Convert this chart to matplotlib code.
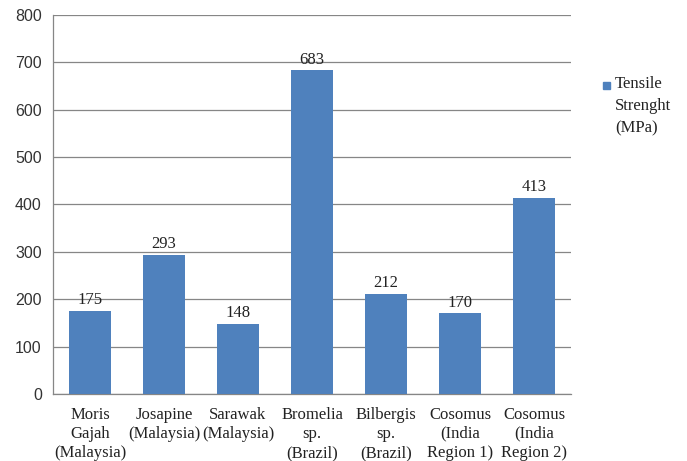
import matplotlib
matplotlib.use("Agg")
import matplotlib.pyplot as plt
from matplotlib.patches import Rectangle

categories = ["Moris\nGajah\n(Malaysia)", "Josapine\n(Malaysia)", "Sarawak\n(Malaysia)",
              "Bromelia\nsp.\n(Brazil)", "Bilbergis\nsp.\n(Brazil)", "Cosomus\n(India\nRegion 1)",
              "Cosomus\n(India\nRegion 2)"]
values = [175, 293, 148, 683, 212, 170, 413]
yticks = [0, 100, 200, 300, 400, 500, 600, 700, 800]
series_name = "Tensile\nStrenght\n(MPa)"

bar_color = "#4F81BD"
grid_color = "#868686"

fig = plt.figure(figsize=(6.87, 4.61), dpi=100)
ax = fig.add_axes([0.0771, 0.1453, 0.754, 0.8222])
x = list(range(len(categories)))
ax.bar(x, values, width=0.57, color=bar_color, zorder=3)
for xi, v in zip(x, values):
    ax.text(xi, v + 6, str(v), ha="center", va="bottom",
            fontfamily="Liberation Serif", fontsize=12, color="#222222")
ax.set_xlim(-0.5, len(categories) - 0.5)
ax.set_ylim(0, 800)
ax.set_yticks(yticks)
ax.set_yticklabels([str(t) for t in yticks], fontfamily="Liberation Sans", fontsize=11.5, color="#333333")
ax.set_xticks(x)
ax.set_xticklabels(categories, fontfamily="Liberation Serif", fontsize=12, color="#222222",
                   linespacing=1.28)
ax.tick_params(axis="y", length=0, pad=8)
ax.tick_params(axis="x", length=0, pad=9)
ax.yaxis.grid(True, color=grid_color, linewidth=0.9, zorder=0)
for s in ["top", "right"]:
    ax.spines[s].set_visible(False)
ax.spines["left"].set_color(grid_color)
ax.spines["bottom"].set_color(grid_color)
ax.spines["left"].set_linewidth(0.9)
ax.spines["bottom"].set_linewidth(0.9)

# legend
fig.patches.append(Rectangle((603 / 687, 1 - 89 / 461), 7 / 687, 7 / 461,
                             transform=fig.transFigure, color=bar_color))
fig.text(615 / 687, 1 - 76 / 461, series_name, ha="left", va="top",
         fontfamily="Liberation Serif", fontsize=12, color="#222222", linespacing=1.5)

fig.savefig("out.png", dpi=100)
